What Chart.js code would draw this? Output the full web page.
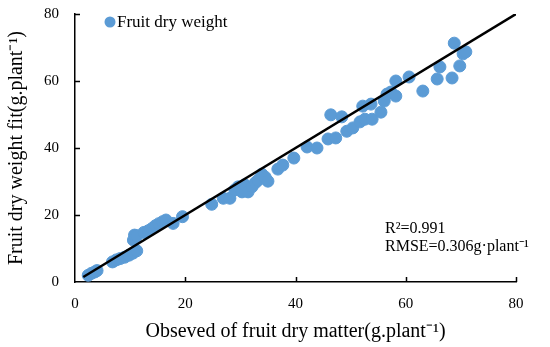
<!DOCTYPE html>
<html>
<head>
<meta charset="utf-8">
<script src="https://cdn.jsdelivr.net/npm/chart.js@4"></script>
<style>
  html, body { margin: 0; padding: 0; background: #fff; }
  #wrap { width: 550px; height: 347px; }
</style>
</head>
<body>
<div id="wrap"><canvas id="chart"></canvas></div>
<script>
// observed vs fitted fruit dry weight
const observed = [
  2.4, 3.0, 3.6, 4.0,
  6.8, 7.5, 8.2, 9.0, 9.8, 10.5, 11.2,
  10.6, 10.8, 11.2, 12.5, 13.3, 14.0, 14.6, 15.2, 15.9, 16.5,
  17.8, 19.5,
  24.8, 26.9, 28.1, 29.0, 29.6, 30.3, 30.8, 31.4, 32.1, 32.7, 33.2, 33.9, 34.5, 35.0,
  36.8, 37.7, 39.7, 42.1, 43.9, 45.9, 47.3, 46.4, 48.4, 49.3, 50.4, 51.7, 52.6, 53.9,
  52.2, 53.7, 55.5, 56.1, 56.6, 57.3, 58.2, 58.2, 60.6, 63.1, 65.7, 66.2, 68.4, 69.8,
  68.8, 70.4, 70.9
];
const fitted = [
  2.0, 2.6, 3.0, 3.4,
  6.0, 6.6, 7.0, 7.4, 8.0, 8.6, 9.3,
  12.5, 14.0, 13.8, 14.8, 15.3, 16.0, 16.8, 17.4, 18.0, 18.5,
  17.5, 19.5,
  23.2, 25.0, 25.0, 27.5, 28.4, 26.9, 29.0, 26.9, 28.4, 29.6, 30.4, 32.2, 31.3, 30.1,
  33.7, 34.9, 37.0, 40.3, 40.0, 42.7, 43.0, 49.9, 49.3, 45.0, 46.0, 47.8, 48.6, 48.6,
  52.5, 53.1, 50.7, 54.0, 56.1, 56.7, 55.5, 60.0, 61.2, 57.0, 60.6, 64.2, 60.9, 64.5,
  71.3, 68.1, 68.7
];
const lineX = [1.5, 80];
const lineY = [1.5, 80];
const legendLabel = "Fruit dry weight";
const noteLines = ["R\u00B2=0.991", "RMSE=0.306g\u00B7plant\u207B\u00B9"];

const serif = "'Liberation Serif', 'Times New Roman', serif";
const blue = "#5B9BD5";

const points = observed.map((x, i) => ({ x: x, y: fitted[i] }));
const linePts = lineX.map((x, i) => ({ x: x, y: lineY[i] }));

// inward ticks, legend and R2 note
const extras = {
  id: "extras",
  afterDraw(chart) {
    const ctx = chart.ctx;
    const xs = chart.scales.x, ys = chart.scales.y;
    const area = chart.chartArea;
    ctx.save();
    ctx.strokeStyle = "#000";
    ctx.lineWidth = 1.5;
    ctx.beginPath();
    [20, 40, 60, 80].forEach(v => {
      const px = Math.round(xs.getPixelForValue(v)) + 0.5;
      ctx.moveTo(px, area.bottom);
      ctx.lineTo(px, area.bottom - 5);
      const py = Math.round(ys.getPixelForValue(v)) + 0.5;
      ctx.moveTo(area.left, py);
      ctx.lineTo(area.left + 5, py);
    });
    ctx.stroke();

    // legend
    ctx.fillStyle = blue;
    ctx.beginPath();
    ctx.arc(110, 22, 5.5, 0, Math.PI * 2);
    ctx.fill();
    ctx.fillStyle = "#000";
    ctx.font = "17px " + serif;
    ctx.textBaseline = "middle";
    ctx.fillText(legendLabel, 117, 23);

    // note
    ctx.font = "16px " + serif;
    ctx.fillText(noteLines[0], 385, 229);
    ctx.fillText(noteLines[1], 385, 247);
    ctx.restore();
  }
};

new Chart(document.getElementById("chart"), {
  type: "scatter",
  data: {
    datasets: [
      {
        label: "fit",
        type: "line",
        data: linePts,
        borderColor: "#000",
        borderWidth: 2.5,
        pointRadius: 0,
        fill: false,
        order: 0
      },
      {
        label: legendLabel,
        data: points,
        backgroundColor: blue,
        borderColor: blue,
        pointRadius: 6,
        pointHoverRadius: 6,
        order: 1
      }
    ]
  },
  options: {
    responsive: true,
    maintainAspectRatio: false,
    animation: false,
    layout: { padding: { top: 14, right: 34, left: 0, bottom: 0 } },
    plugins: {
      legend: { display: false },
      tooltip: { enabled: false }
    },
    scales: {
      x: {
        type: "linear",
        min: 0,
        max: 80,
        ticks: { stepSize: 20, color: "#000", font: { family: serif, size: 15 }, padding: 13 },
        grid: { display: false, drawTicks: false },
        border: { color: "#000", width: 1.5 },
        title: {
          display: true,
          text: "Obseved of fruit dry matter(g.plant\u207B\u00B9)",
          color: "#000",
          font: { family: serif, size: 20 },
          padding: { top: 2, bottom: 3 }
        },
        afterFit(scale) {
          scale.height = 65;
          scale.paddingLeft = 0;
          scale.paddingRight = 0;
        }
      },
      y: {
        type: "linear",
        min: 0,
        max: 80,
        ticks: { stepSize: 20, color: "#000", font: { family: serif, size: 15 }, padding: 16 },
        grid: { display: false, drawTicks: false },
        border: { color: "#000", width: 1.5 },
        title: {
          display: true,
          text: "Fruit dry weight fit(g.plant\u207B\u00B9)",
          color: "#000",
          font: { family: serif, size: 20 },
          padding: { top: 5, bottom: 2 }
        },
        afterFit(scale) {
          scale.width = 75;
          scale.paddingTop = 0;
          scale.paddingBottom = 0;
        }
      }
    }
  },
  plugins: [extras]
});
</script>
</body>
</html>
